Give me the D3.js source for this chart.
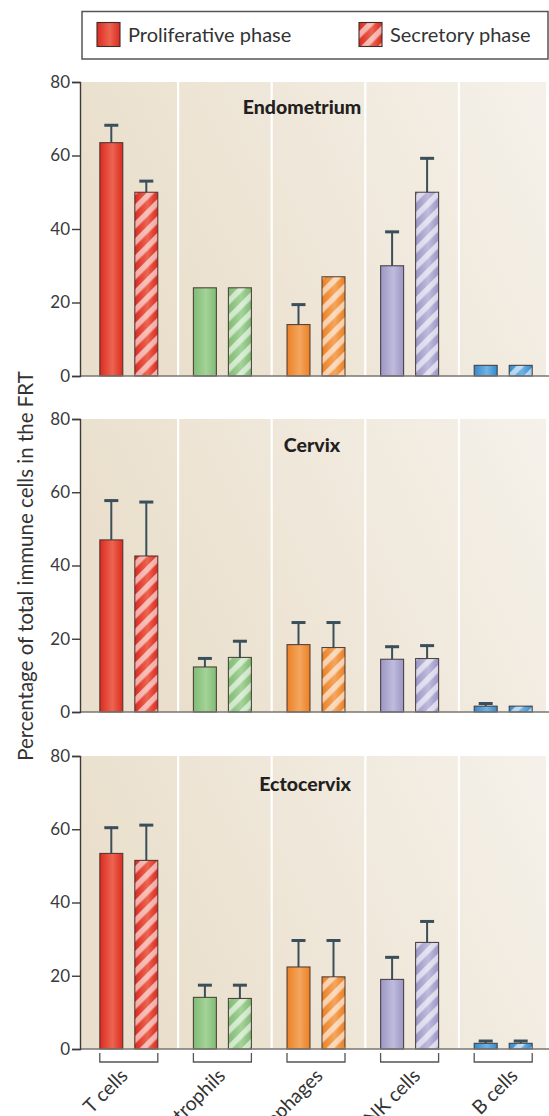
<!DOCTYPE html>
<html><head><meta charset="utf-8">
<script src="https://cdn.jsdelivr.net/npm/d3@7"></script>
<style>
html,body{margin:0;padding:0;background:#fff;}
svg{display:block;font-family:Lato,"Open Sans",sans-serif;}
</style></head>
<body>
<script>
// ---------- data ----------
const categories = ["T cells", "Neutrophils", "Macrophages", "NK cells", "B cells"];
const phases = ["Proliferative phase", "Secretory phase"];
const tissues = ["Endometrium", "Cervix", "Ectocervix"];
const yTicks = [0, 20, 40, 60, 80];

const endometriumProliferative = [63.5, 24, 14, 30, 2.9];
const endometriumProliferativeErr = [5, 0, 5.7, 9.5, 0];
const endometriumSecretory = [50, 24, 27, 50, 2.9];
const endometriumSecretoryErr = [3.3, 0, 0, 9.5, 0];

const cervixProliferative = [47, 12.3, 18.4, 14.4, 1.6];
const cervixProliferativeErr = [11, 2.6, 6.3, 3.7, 1.0];
const cervixSecretory = [42.6, 14.9, 17.6, 14.6, 1.6];
const cervixSecretoryErr = [15, 4.7, 7.1, 3.8, 0];

const ectocervixProliferative = [53.4, 14.1, 22.4, 19, 1.55];
const ectocervixProliferativeErr = [7.3, 3.6, 7.5, 6.3, 0.9];
const ectocervixSecretory = [51.5, 13.8, 19.7, 29.1, 1.55];
const ectocervixSecretoryErr = [9.9, 3.9, 10.2, 6, 0.9];

const yLabel = "Percentage of total immune cells in the FRT";

// ---------- styles ----------
const catColors = {
  "T cells":     {edge:"#dc2a22", mid:"#ec6550"},
  "Neutrophils": {edge:"#80bb74", mid:"#a4d398"},
  "Macrophages": {edge:"#ec8024", mid:"#f4a65e"},
  "NK cells":    {edge:"#9c96c6", mid:"#bfbbdc"},
  "B cells":     {edge:"#3389cc", mid:"#72b3e3"}
};

const panelData = [
  {title: tissues[0], pro: endometriumProliferative, proErr: endometriumProliferativeErr, sec: endometriumSecretory, secErr: endometriumSecretoryErr, top: 82, bottom: 376, titleX: 302, titleDy: 32},
  {title: tissues[1], pro: cervixProliferative, proErr: cervixProliferativeErr, sec: cervixSecretory, secErr: cervixSecretoryErr, top: 419, bottom: 712, titleX: 312, titleDy: 33},
  {title: tissues[2], pro: ectocervixProliferative, proErr: ectocervixProliferativeErr, sec: ectocervixSecretory, secErr: ectocervixSecretoryErr, top: 756, bottom: 1049, titleX: 305, titleDy: 35}
];

const W = 549, H = 1116;
const svg = d3.select("body").append("svg").attr("width", W).attr("height", H);
const defs = svg.append("defs");

// background gradient
const bg = defs.append("linearGradient").attr("id","bgGrad").attr("x1","0").attr("y1","0.3").attr("x2","1").attr("y2","0");
bg.append("stop").attr("offset","0").attr("stop-color","#eadfcc");
bg.append("stop").attr("offset","1").attr("stop-color","#f5f1ea");

// bar gradients and stripe patterns
categories.forEach((c,i)=>{
  const g = defs.append("linearGradient").attr("id","bar"+i).attr("x1","0").attr("x2","1").attr("y1","0").attr("y2","0");
  g.append("stop").attr("offset","0").attr("stop-color",catColors[c].edge);
  g.append("stop").attr("offset","0.55").attr("stop-color",catColors[c].mid);
  g.append("stop").attr("offset","1").attr("stop-color",catColors[c].edge);
  const p = defs.append("pattern").attr("id","stripe"+i).attr("patternUnits","userSpaceOnUse")
    .attr("width",12).attr("height",12).attr("patternTransform","rotate(45)");
  p.append("rect").attr("width",5.5).attr("height",12).attr("fill","#fff").attr("fill-opacity",0.6);
});

const x = d3.scaleBand().domain(categories).range([82, 550]);
const xLabel = d3.scalePoint().domain(categories).range([129, 519]);
const barW = 23, barOff = 17.5;
const sub = d3.scaleOrdinal().domain(phases).range([-barOff, barOff]);

panelData.forEach(pd=>{
  const y = d3.scaleLinear().domain([0,80]).range([pd.bottom, pd.top]);
  const g = svg.append("g");
  g.append("rect").attr("x",80).attr("y",y(80)).attr("width",466).attr("height",y(0)-y(80)).attr("fill","url(#bgGrad)");
  // separators
  categories.slice(1).forEach(c=>{
    g.append("line").attr("x1",x(c)+2.5).attr("x2",x(c)+2.5).attr("y1",y(80)).attr("y2",y(0))
      .attr("stroke","#fff").attr("stroke-width",2.2);
  });
  // title
  g.append("text").attr("x",pd.titleX).attr("y",pd.top+pd.titleDy).attr("text-anchor","middle")
    .attr("font-weight",900).attr("font-size",19.5).attr("fill","#231f20").text(pd.title);

  const series = [
    {phase: phases[0], vals: pd.pro, errs: pd.proErr},
    {phase: phases[1], vals: pd.sec, errs: pd.secErr}
  ];
  series.forEach((s,si)=>{
    categories.forEach((c,i)=>{
      const cx = x(c) + x.bandwidth()/2 + sub(s.phase);
      const v = s.vals[i], e = s.errs[i];
      if (e > 0) {
        g.append("line").attr("x1",cx).attr("x2",cx).attr("y1",y(v)).attr("y2",y(v+e))
          .attr("stroke","#3b4f5a").attr("stroke-width",2);
        g.append("line").attr("x1",cx-7).attr("x2",cx+7).attr("y1",y(v+e)+1).attr("y2",y(v+e)+1)
          .attr("stroke","#3b4f5a").attr("stroke-width",3);
      }
      g.append("rect").attr("x",cx-barW/2).attr("y",y(v)).attr("width",barW).attr("height",y(0)-y(v))
        .attr("fill","url(#bar"+i+")").attr("stroke","#3a2e2c").attr("stroke-width",1.1).attr("stroke-opacity",0.85);
      if (si===1) {
        g.append("rect").attr("x",cx-barW/2+0.6).attr("y",y(v)+0.6).attr("width",barW-1.2).attr("height",Math.max(0,y(0)-y(v)-1.2))
          .attr("fill","url(#stripe"+i+")");
      }
    });
  });
  // baseline
  g.append("line").attr("x1",80).attr("x2",549).attr("y1",y(0)).attr("y2",y(0)).attr("stroke","#7a7672").attr("stroke-width",1.6);
  // y axis
  const ax = g.append("g").attr("transform","translate(80,0)")
    .call(d3.axisLeft(y).tickValues(yTicks).tickSize(8).tickPadding(2));
  ax.select(".domain").attr("stroke","#3b3b3b").attr("stroke-width",1.4);
  ax.selectAll(".tick line").attr("stroke","#3b3b3b").attr("stroke-width",1.4);
  ax.selectAll(".tick text").attr("font-size",17).attr("fill","#3a3a3a").attr("font-family","Lato, 'Open Sans', sans-serif");
});

// x-axis brackets and labels (bottom)
const yB = 1053, yB2 = 1062;
categories.forEach(c=>{
  const cx = x(c) + x.bandwidth()/2;
  const x0 = cx - barOff - barW/2, x1 = cx + barOff + barW/2;
  svg.append("path").attr("d",`M${x0},${yB}V${yB2}H${x1}V${yB}`).attr("fill","none").attr("stroke","#555").attr("stroke-width",1.3);
  svg.append("text").attr("transform",`translate(${xLabel(c)},${1077}) rotate(-45)`).attr("text-anchor","end")
    .attr("font-size",19.5).attr("fill","#333").text(c);
});

// y label
svg.append("text").attr("transform","translate(33,566) rotate(-90)").attr("text-anchor","middle")
  .attr("font-size",20.5).attr("fill","#333").text(yLabel);

// legend
const lg = svg.append("g");
lg.append("rect").attr("x",82).attr("y",11.5).attr("width",466).attr("height",47.5).attr("fill","#fff").attr("stroke","#555").attr("stroke-width",1.5);
phases.forEach((p,i)=>{
  const sx = i===0 ? 97 : 359;
  lg.append("rect").attr("x",sx).attr("y",22.5).attr("width",23).attr("height",24)
    .attr("fill","url(#bar0)").attr("stroke","#3a2e2c").attr("stroke-width",1.1);
  if (i===1) lg.append("rect").attr("x",sx+0.6).attr("y",23.1).attr("width",21.8).attr("height",22.8).attr("fill","url(#stripe0)");
  lg.append("text").attr("x",sx+31).attr("y",42).attr("font-size",20).attr("fill","#333").text(p);
});
</script>
</body></html>
